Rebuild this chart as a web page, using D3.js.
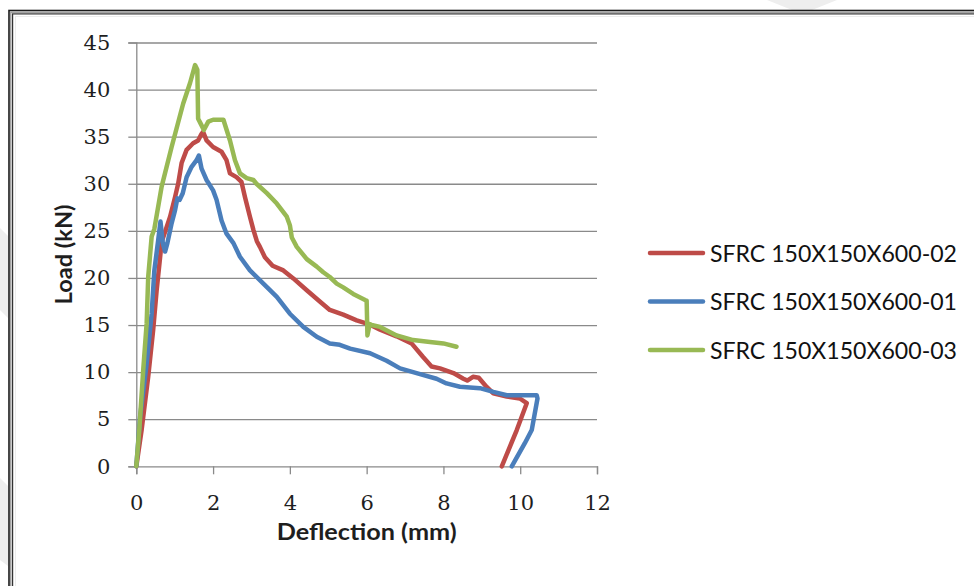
<!DOCTYPE html>
<html>
<head>
<meta charset="utf-8">
<script src="https://cdn.jsdelivr.net/npm/d3@7/dist/d3.min.js"></script>
<style>
  body { margin: 0; background: #fff; }
  svg { display: block; }
</style>
</head>
<body>
<svg id="chart" width="974" height="586"></svg>
<script>
// Load–deflection curves of three SFRC prisms (150x150x600)
const seriesNames = ["SFRC 150X150X600-02", "SFRC 150X150X600-01", "SFRC 150X150X600-03"];
const seriesColors = ["#be4b48", "#4a7ebb", "#98b954"];

const deflection02 = [0, 0.14, 0.31, 0.44, 0.53, 0.62, 0.66, 0.88, 1.01, 1.09, 1.18, 1.31, 1.48, 1.61, 1.70, 1.74,
  1.83, 2.0, 2.22, 2.35, 2.44, 2.61, 2.74, 2.83, 2.96, 3.05, 3.14, 3.22, 3.35, 3.55, 3.83, 4.09, 4.44, 4.78,
  5.04, 5.39, 5.74, 6.05, 6.35, 6.78, 7.17, 7.47, 7.69, 7.91, 8.26, 8.52, 8.62, 8.77, 8.92, 9.12, 9.30, 9.65,
  9.99, 10.17, 9.91, 9.52];
const load02 = [0, 3.9, 9.5, 14.5, 18.7, 22.2, 23.8, 26.5, 28.6, 30.0, 32.2, 33.6, 34.3, 34.6, 35.3, 35.5,
  34.6, 33.9, 33.4, 32.5, 31.1, 30.7, 30.2, 28.6, 26.5, 25.1, 23.9, 23.3, 22.2, 21.3, 20.8, 19.95, 18.7, 17.5,
  16.6, 16.1, 15.5, 15.1, 14.5, 13.8, 13.05, 11.6, 10.6, 10.4, 9.9, 9.3, 9.1, 9.5, 9.4, 8.45, 7.75, 7.4,
  7.2, 6.7, 3.85, 0];

const deflection01 = [0, 0.10, 0.27, 0.40, 0.47, 0.57, 0.63, 0.69, 0.75, 0.81, 0.92, 1.01, 1.07, 1.13, 1.21,
  1.31, 1.44, 1.57, 1.63, 1.70, 1.83, 2.0, 2.09, 2.22, 2.35, 2.53, 2.70, 2.96, 3.31, 3.66, 4.0, 4.35, 4.70,
  5.04, 5.30, 5.57, 6.09, 6.52, 6.87, 7.30, 7.82, 8.08, 8.43, 8.95, 9.30, 9.65, 10.43, 10.45, 10.30, 10.12, 9.78];
const load01 = [0, 5.3, 10.9, 16.2, 20.8, 24.0, 26.0, 23.7, 22.8, 23.7, 25.8, 27.2, 28.45, 28.3, 29.0,
  30.7, 31.8, 32.5, 33.0, 31.6, 30.4, 29.3, 28.3, 26.1, 24.7, 23.7, 22.25, 20.8, 19.4, 18.0, 16.2, 14.8, 13.75,
  13.05, 12.9, 12.5, 12.0, 11.2, 10.4, 9.9, 9.3, 8.8, 8.45, 8.3, 7.9, 7.55, 7.55, 7.2, 3.85, 2.45, 0];

const deflection03 = [0, 0.08, 0.18, 0.27, 0.31, 0.40, 0.47, 0.66, 0.92, 1.22, 1.40, 1.53, 1.59, 1.61, 1.65,
  1.70, 1.76, 1.875, 2.0, 2.27, 2.30, 2.44, 2.57, 2.70, 2.875, 3.05, 3.13, 3.40, 3.66, 3.92, 4.0, 4.05, 4.18,
  4.44, 4.70, 4.87, 5.04, 5.22, 5.39, 5.65, 5.96, 6.0, 6.02, 6.08, 6.13, 6.35, 6.78, 7.21, 7.65, 8.0, 8.34];
const load03 = [0, 4.0, 10.2, 15.2, 20.1, 24.4, 25.2, 29.7, 33.9, 38.5, 40.7, 42.6, 42.1, 36.9, 36.6,
  36.2, 35.7, 36.6, 36.8, 36.8, 36.4, 34.6, 32.5, 31.1, 30.6, 30.4, 30.0, 29.0, 27.9, 26.5, 25.6, 24.3, 23.3,
  22.0, 21.2, 20.6, 20.1, 19.4, 19.0, 18.3, 17.65, 17.6, 13.9, 15.1, 15.0, 14.8, 13.9, 13.4, 13.2, 13.05, 12.7];

const xTicks = [0, 2, 4, 6, 8, 10, 12];
const yTicks = [0, 5, 10, 15, 20, 25, 30, 35, 40, 45];
const xTitle = "Deflection (mm)";
const yTitle = "Load (kN)";

const series = [
  { name: seriesNames[0], color: seriesColors[0], xs: deflection02, ys: load02 },
  { name: seriesNames[1], color: seriesColors[1], xs: deflection01, ys: load01 },
  { name: seriesNames[2], color: seriesColors[2], xs: deflection03, ys: load03 }
];

const svg = d3.select("#chart");
const W = 974, H = 586;

// faint page marks outside the chart frame
const bgMarks = [
  [[767, 0], [837, 0], [812, 10], [792, 10]],
  [[0, 228], [8, 236], [8, 318], [0, 310]],
  [[0, 478], [8, 486], [8, 566], [0, 560]]
];
svg.append("g").selectAll("polygon").data(bgMarks).join("polygon")
  .attr("points", d => d.map(p => p.join(",")).join(" "))
  .attr("fill", "#eeeeee");

// chart frame (double border running off the right and bottom edges)
const frame = svg.append("g");
frame.append("rect").attr("x", 9).attr("y", 10.5).attr("width", W + 20).attr("height", H + 20)
  .attr("fill", "#fff").attr("stroke", "#1a1a1a").attr("stroke-width", 1.6);
frame.append("rect").attr("x", 10.8).attr("y", 12.2).attr("width", W + 20).attr("height", H + 20)
  .attr("fill", "none").attr("stroke", "#9a9a9a").attr("stroke-width", 1.4);
frame.append("rect").attr("x", 12.6).attr("y", 13.9).attr("width", W + 20).attr("height", H + 20)
  .attr("fill", "none").attr("stroke", "#333", ).attr("stroke-width", 1.2);
frame.append("rect").attr("x", 15.5).attr("y", 16.5).attr("width", W + 20).attr("height", H + 20)
  .attr("fill", "none").attr("stroke", "#ececec").attr("stroke-width", 1);

const plot = { left: 136.3, right: 597, top: 42.5, bottom: 466.3 };
const x = d3.scaleLinear().domain([0, 12]).range([plot.left, plot.right]);
const y = d3.scaleLinear().domain([0, 45]).range([plot.bottom, plot.top]);

const gridColor = "#8a8a8a";

// horizontal gridlines
svg.append("g")
  .attr("transform", `translate(${plot.left},0)`)
  .call(d3.axisLeft(y).tickValues(yTicks.filter(v => v > 0)).tickSize(-(plot.right - plot.left)).tickFormat(""))
  .call(g => g.select(".domain").remove())
  .call(g => g.selectAll("line").attr("stroke", gridColor).attr("stroke-width", 1.3));

// y axis
const yAxis = svg.append("g")
  .attr("transform", `translate(${plot.left},0)`)
  .call(d3.axisLeft(y).tickValues(yTicks).tickSize(8).tickPadding(18).tickFormat(d3.format("d")));
yAxis.select(".domain").attr("stroke", gridColor).attr("stroke-width", 1.3);
yAxis.selectAll(".tick line").attr("stroke", gridColor).attr("stroke-width", 1.3);
yAxis.selectAll("text").attr("font-family", "'DejaVu Serif', serif").attr("font-size", 21).attr("fill", "#1e1e1e");

// x axis
const xAxis = svg.append("g")
  .attr("transform", `translate(0,${plot.bottom})`)
  .call(d3.axisBottom(x).tickValues(xTicks).tickSize(8).tickPadding(20.5).tickFormat(d3.format("d")));
xAxis.select(".domain").attr("stroke", gridColor).attr("stroke-width", 1.3);
xAxis.selectAll(".tick line").attr("stroke", gridColor).attr("stroke-width", 1.3);
xAxis.selectAll("text").attr("font-family", "'DejaVu Serif', serif").attr("font-size", 21).attr("fill", "#1e1e1e");

// axis titles
svg.append("text")
  .attr("x", (plot.left + plot.right) / 2).attr("y", 540)
  .attr("text-anchor", "middle")
  .attr("font-family", "Lato, 'Open Sans', sans-serif").attr("font-weight", "bold").attr("font-size", 22)
  .attr("textLength", 180).attr("lengthAdjust", "spacingAndGlyphs")
  .attr("fill", "#1e1e1e")
  .text(xTitle);

svg.append("text")
  .attr("transform", `translate(72,${(plot.top + plot.bottom) / 2}) rotate(-90)`)
  .attr("text-anchor", "middle")
  .attr("font-family", "Lato, 'Open Sans', sans-serif").attr("font-weight", "bold").attr("font-size", 22)
  .attr("textLength", 100).attr("lengthAdjust", "spacingAndGlyphs")
  .attr("fill", "#1e1e1e")
  .text(yTitle);

// curves
const line = d3.line().x(d => x(d[0])).y(d => y(d[1])).curve(d3.curveLinear);
svg.append("g").selectAll("path").data(series).join("path")
  .attr("d", s => line(s.xs.map((v, i) => [v, s.ys[i]])))
  .attr("fill", "none")
  .attr("stroke", s => s.color)
  .attr("stroke-width", 4.5)
  .attr("stroke-linejoin", "round")
  .attr("stroke-linecap", "round");

// legend
const legend = svg.append("g").selectAll("g").data(series).join("g")
  .attr("transform", (s, i) => `translate(650,${253 + i * 48.5})`);
legend.append("line")
  .attr("x1", 0).attr("x2", 53).attr("y1", 0).attr("y2", 0)
  .attr("stroke", s => s.color).attr("stroke-width", 4.5).attr("stroke-linecap", "round");
legend.append("text")
  .attr("x", 60).attr("y", 8.5)
  .attr("font-family", "Lato, 'Open Sans', sans-serif").attr("font-size", 23)
  .attr("textLength", 247).attr("lengthAdjust", "spacingAndGlyphs")
  .attr("fill", "#111")
  .text(s => s.name);
</script>
</body>
</html>
